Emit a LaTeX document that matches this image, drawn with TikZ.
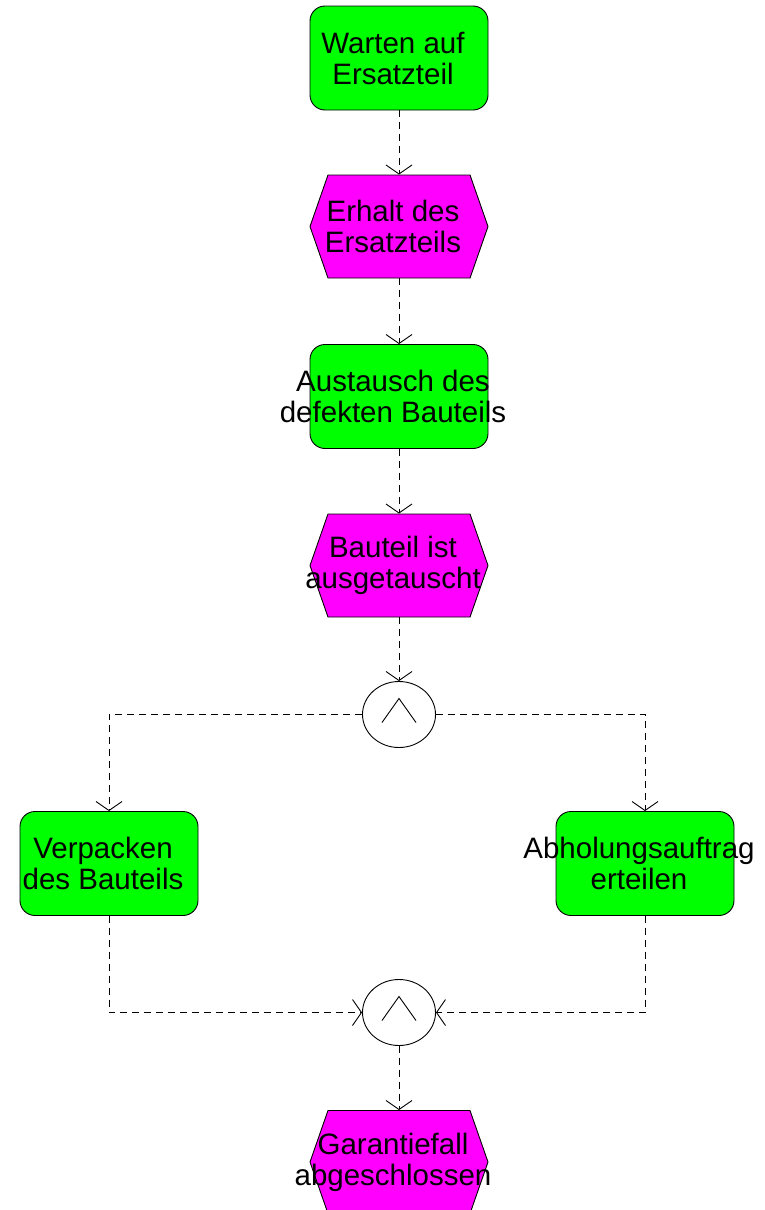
\documentclass[tikz,border=0pt]{standalone}
\usepackage{fontspec}
\setmainfont{Liberation Sans}
\usetikzlibrary{shapes.geometric,shapes.symbols,arrows.meta,positioning,calc}
\definecolor{funcgreen}{RGB}{0,255,0}
\definecolor{eventpink}{RGB}{255,0,255}

\begin{document}
\begin{tikzpicture}[x=1pt,y=-1pt]%
            \tikzstyle{lbl}=[align=center, xshift=-6pt, inner sep=0pt, font=\fontsize{29.5}{31}\selectfont];%
            \tikzstyle{func}=[rectangle, rounded corners=15pt, draw, line width=0.9pt, fill=funcgreen, minimum width=178pt, minimum height=104pt, inner sep=0pt];%
            \tikzstyle{event}=[signal, signal to=west and east, signal pointer angle=141.5, draw, line width=0.9pt, fill=eventpink, minimum width=178pt, minimum height=103pt, inner sep=0pt];%
            \tikzstyle{andop}=[ellipse, draw, line width=0.9pt, fill=white, minimum width=73pt, minimum height=66pt, inner sep=0pt,
              path picture={\draw[line width=0.9pt] (path picture bounding box.center) ++(-17,8) -- ++(17,-24) -- ++(17,24);}];%
            \tikzstyle{flow}=[line width=0.9pt, dash pattern=on 7pt off 5pt, -{Straight Barb[length=9pt,width=26pt]}];%
            \fill[white] (0,0) rectangle (765,1210);
            \useasboundingbox (0,0) rectangle (765,1210);

            \node (f1) at (399, 58) [func, label={[lbl]center:Warten auf\\Ersatzteil}] {};
            \node (e1) at (399, 226.5) [event, label={[lbl]center:Erhalt des\\Ersatzteils}] {};
            \draw (f1) edge[flow] (e1);

            \node (f2) at (399, 396.5) [func, label={[lbl]center:Austausch des\\defekten Bauteils}] {};
            \draw (e1) edge[flow] (f2);

            \node (e2) at (399, 565.5) [event, label={[lbl]center:Bauteil ist\\ausgetauscht}] {};
            \draw (f2) edge[flow] (e2);

            \node (and1) at (399, 714.5) [andop] {};
            \draw (e2) edge[flow] (and1);

            \node (verp) at (109, 863.5) [func, label={[lbl]center:Verpacken\\des Bauteils}] {};
            \node (abhol) at (645, 863.5) [func, label={[lbl]center:Abholungsauftrag\\erteilen}] {};
            \draw[flow] (and1) -| (verp);
            \draw[flow] (and1) -| (abhol);

            \node (and2) at (399, 1012.5) [andop] {};
            \draw[flow] (verp) |- (and2);
            \draw[flow] (abhol) |- (and2);

            \node (e3) at (399, 1162) [event, label={[lbl]center:Garantiefall\\abgeschlossen}] {};
            \draw (and2) edge[flow] (e3);
        \end{tikzpicture}
\end{document}
